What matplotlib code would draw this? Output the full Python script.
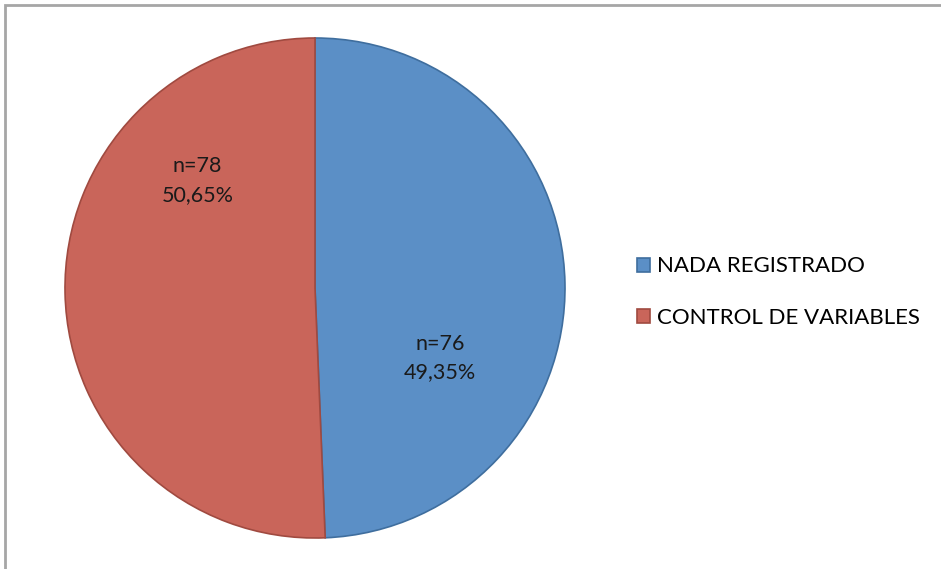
import matplotlib.pyplot as plt
from matplotlib.patches import Rectangle

plt.rcParams['font.family'] = ['Lato', 'DejaVu Sans']

# Respuestas por categoría
categories = ['NADA REGISTRADO', 'CONTROL DE VARIABLES']
counts = [76, 78]
percents = ['49,35%', '50,65%']
colors = ['#5B8FC6', '#C9655A']
edges = ['#3F6E9E', '#A04A40']

fig = plt.figure(figsize=(9.41, 5.69), dpi=100)

# marco gris del gráfico
fig.patches.append(Rectangle((5 / 941, -0.05), 1.05, 1 - 5 / 569 + 0.05,
                             transform=fig.transFigure, fill=False,
                             edgecolor='#A6A6A6', linewidth=2))

ax = fig.add_axes([65 / 941, 31 / 569, 500 / 941, 500 / 569])
wedges, _ = ax.pie(counts, colors=colors, startangle=90, counterclock=False,
                   radius=1.0)
for w, ec in zip(wedges, edges):
    w.set_edgecolor(ec)
    w.set_linewidth(1.2)
ax.set_xlim(-1, 1)
ax.set_ylim(-1, 1)
ax.set_aspect('equal')

# etiquetas de datos
label_pos = [(0.5, -0.28), (-0.47, 0.43)]
for (x, y), n, p in zip(label_pos, counts, percents):
    ax.text(x, y, f'n={n}\n{p}', ha='center', va='center', fontsize=15.5,
            color='#1a1a1a', linespacing=1.55)

leg = fig.legend(wedges, categories, loc='center left',
                 bbox_to_anchor=(637 / 941, 1 - 292 / 569), frameon=False,
                 fontsize=16, handlelength=0.6, handleheight=0.6,
                 handletextpad=0.3, labelspacing=1.4, borderpad=0,
                 borderaxespad=0)

fig.savefig('out.png', dpi=100)
